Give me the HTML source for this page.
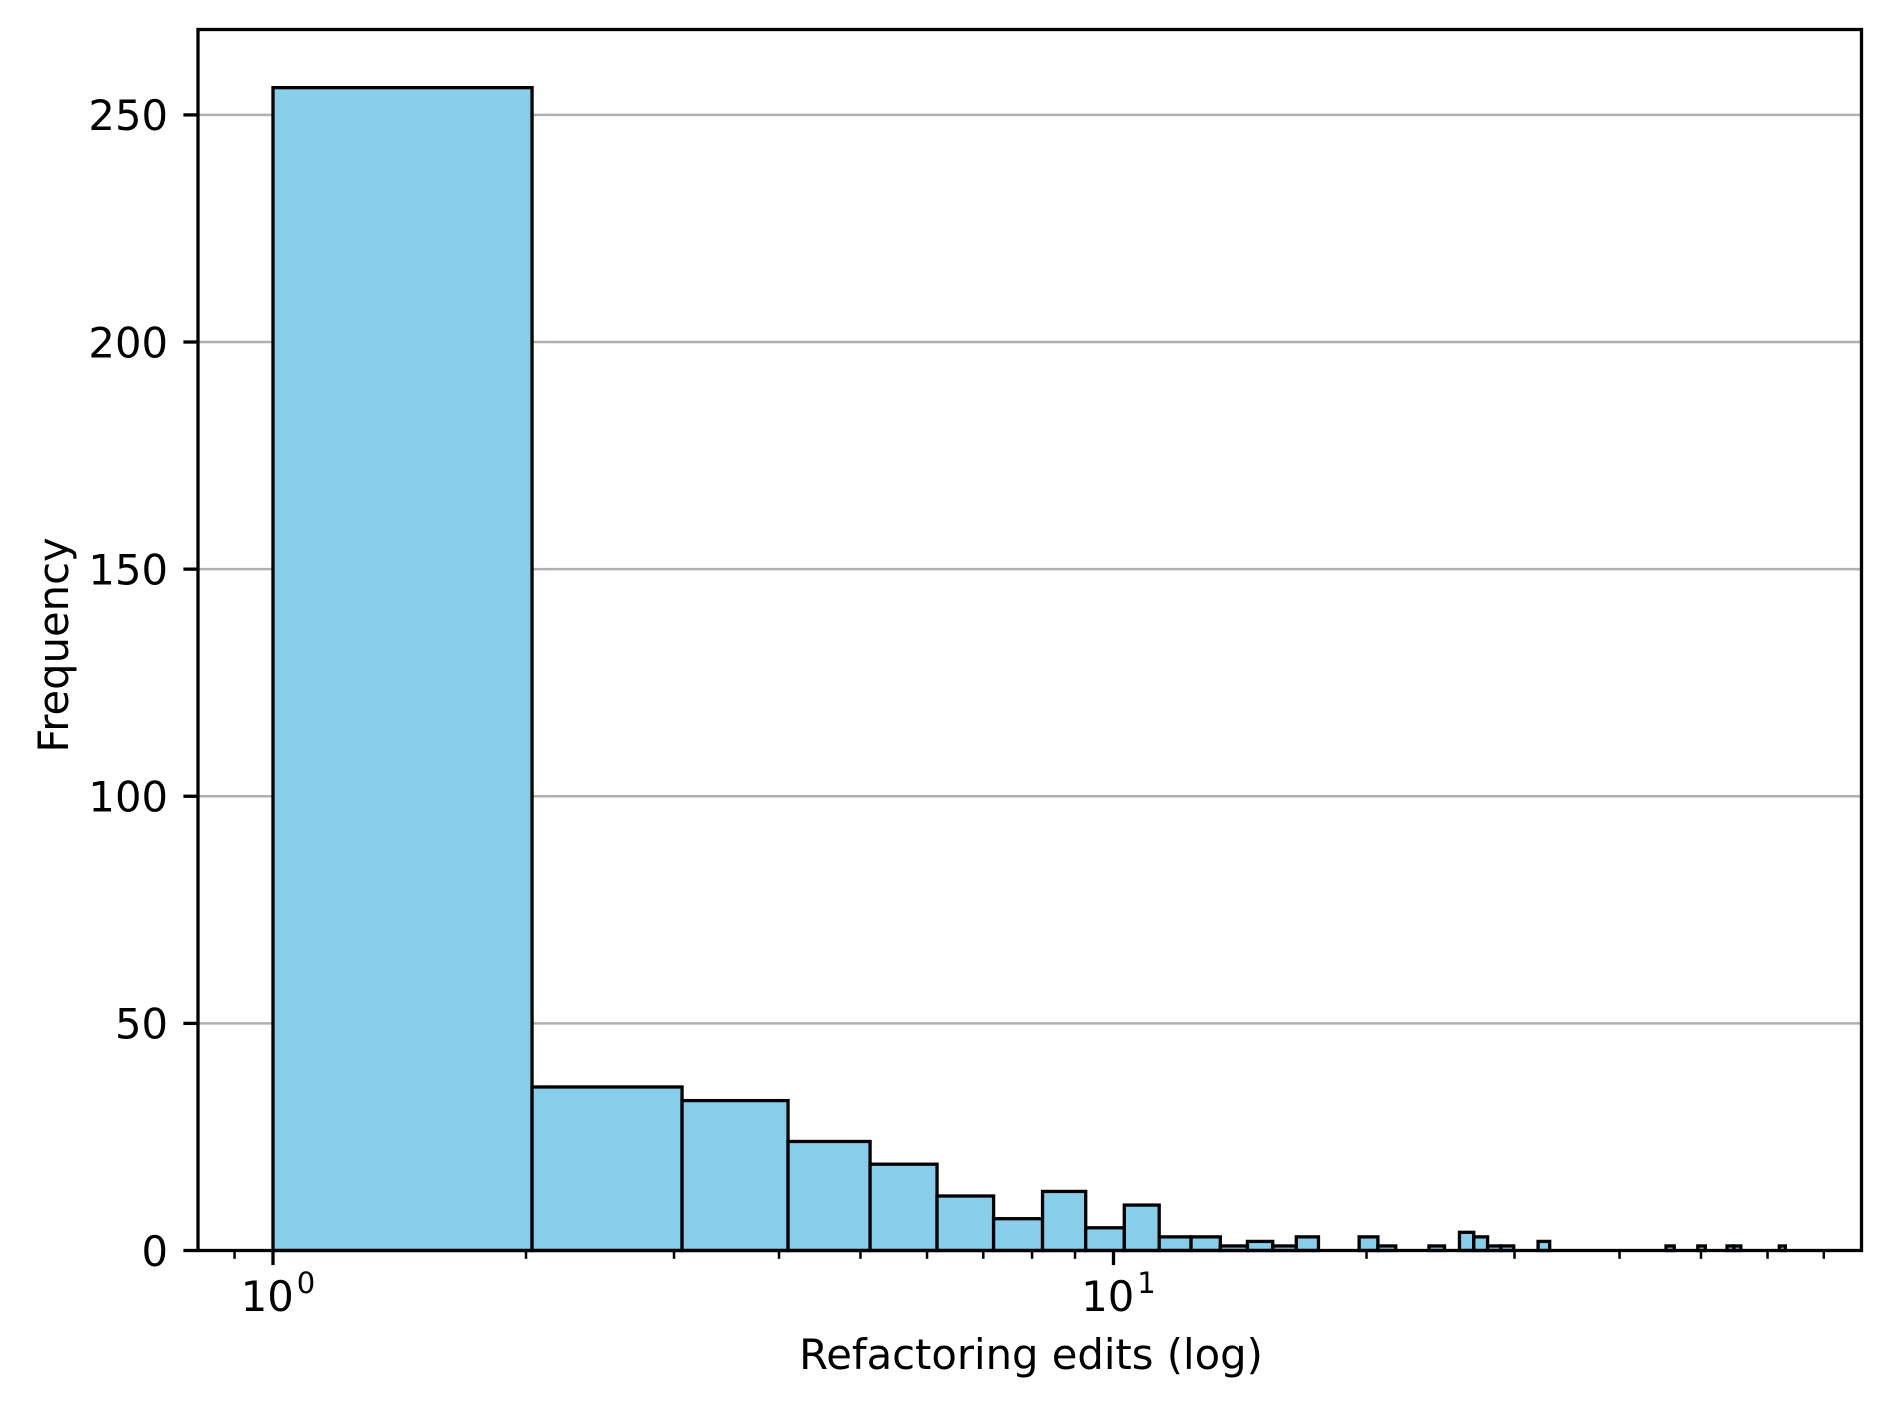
<!DOCTYPE html>
<html><head><meta charset="utf-8"><title>Refactoring edits histogram</title>
<style>html,body{margin:0;padding:0;background:#fff}svg{display:block}text{font-family:"DejaVu Sans","Liberation Sans",sans-serif;fill:#000}</style>
</head><body>
<svg id="chart" width="1890" height="1410" viewBox="0 0 1890 1410" xmlns="http://www.w3.org/2000/svg">
<rect x="0" y="0" width="1890" height="1410" fill="#fff"/>
<g id="grid"></g>
<g id="bars"></g>
<g id="axes"></g>
<text x="1031" y="1369" font-size="41.7" text-anchor="middle">Refactoring edits (log)</text>
<text x="68" y="645" font-size="41.7" text-anchor="middle" transform="rotate(-90 68 645)">Frequency</text>
</svg>
<script>
const binStart = 1;
const binEnd = 63;
const counts = [256,36,33,24,19,12,7,13,5,10,3,3,1,2,1,3,0,0,3,1,0,0,1,0,4,3,1,1,0,0,2,0,0,0,0,0,0,0,0,0,0,0,0,1,0,0,0,1,0,0,0,1,1,0,0,0,0,0,0,1];
const yTicks = [0,50,100,150,200,250];
const xMajorTicks = [1,10];
const xMajorExp = ["0","1"];
const xMinorTicks = [0.9,2,3,4,5,6,7,8,9,20,30,40,50,60,70];

const NS = "http://www.w3.org/2000/svg";
const L = 198, R = 1861.5, T = 29.5, B = 1250.5;
const px0 = 273, decade = 840.5;
const yMax = 268.8;
function xs(v){ return px0 + decade*Math.log10(v); }
function ys(v){ return B - (B-T)*v/yMax; }
function mk(tag, attrs, parent){ const e=document.createElementNS(NS,tag); for(const k in attrs) e.setAttribute(k,attrs[k]); parent.appendChild(e); return e; }

const grid = document.getElementById('grid');
const bars = document.getElementById('bars');
const axes = document.getElementById('axes');

yTicks.forEach(t=>{
  if(t===0) return;
  const g = mk('line',{x1:L,x2:R,y1:ys(t),y2:ys(t),stroke:'#b0b0b0','stroke-width':2.5},grid);
  
  
});

const n = counts.length;
const w = (binEnd-binStart)/n;
counts.forEach((c,i)=>{
  const a = binStart+i*w, b = binStart+(i+1)*w;
  const r = mk('rect',{x:xs(a),y:ys(c),width:xs(b)-xs(a),height:ys(0)-ys(c),fill:'#87ceeb',stroke:'#000','stroke-width':3.3},bars);
  
  
});

const frame = mk('rect',{x:L,y:T,width:R-L,height:B-T,fill:'none',stroke:'#000','stroke-width':3.3},axes);



yTicks.forEach(t=>{
  const tk = mk('line',{x1:L-14.6,x2:L,y1:ys(t),y2:ys(t),stroke:'#000','stroke-width':3.3},axes);
  
  
  const tx = mk('text',{x:L-30,y:ys(t)+15.3,'font-size':41.7,'text-anchor':'end'},axes);
  tx.textContent = String(t);
  
  
});

xMinorTicks.forEach(t=>{
  const tk = mk('line',{x1:xs(t),x2:xs(t),y1:B,y2:B+8.3,stroke:'#000','stroke-width':2.5},axes);
  
  
});
xMajorTicks.forEach((t,i)=>{
  const x = xs(t);
  const tk = mk('line',{x1:x,x2:x,y1:B,y2:B+14.6,stroke:'#000','stroke-width':3.3},axes);
  
  
  const tx = mk('text',{x:x-32.3,y:1311,'font-size':41.7},axes);
  
  
  tx.appendChild(document.createTextNode('10'));
  const sup = mk('tspan',{'font-size':29,dx:3,dy:-18},tx);
  sup.textContent = xMajorExp[i];
});
</script>
</body></html>
